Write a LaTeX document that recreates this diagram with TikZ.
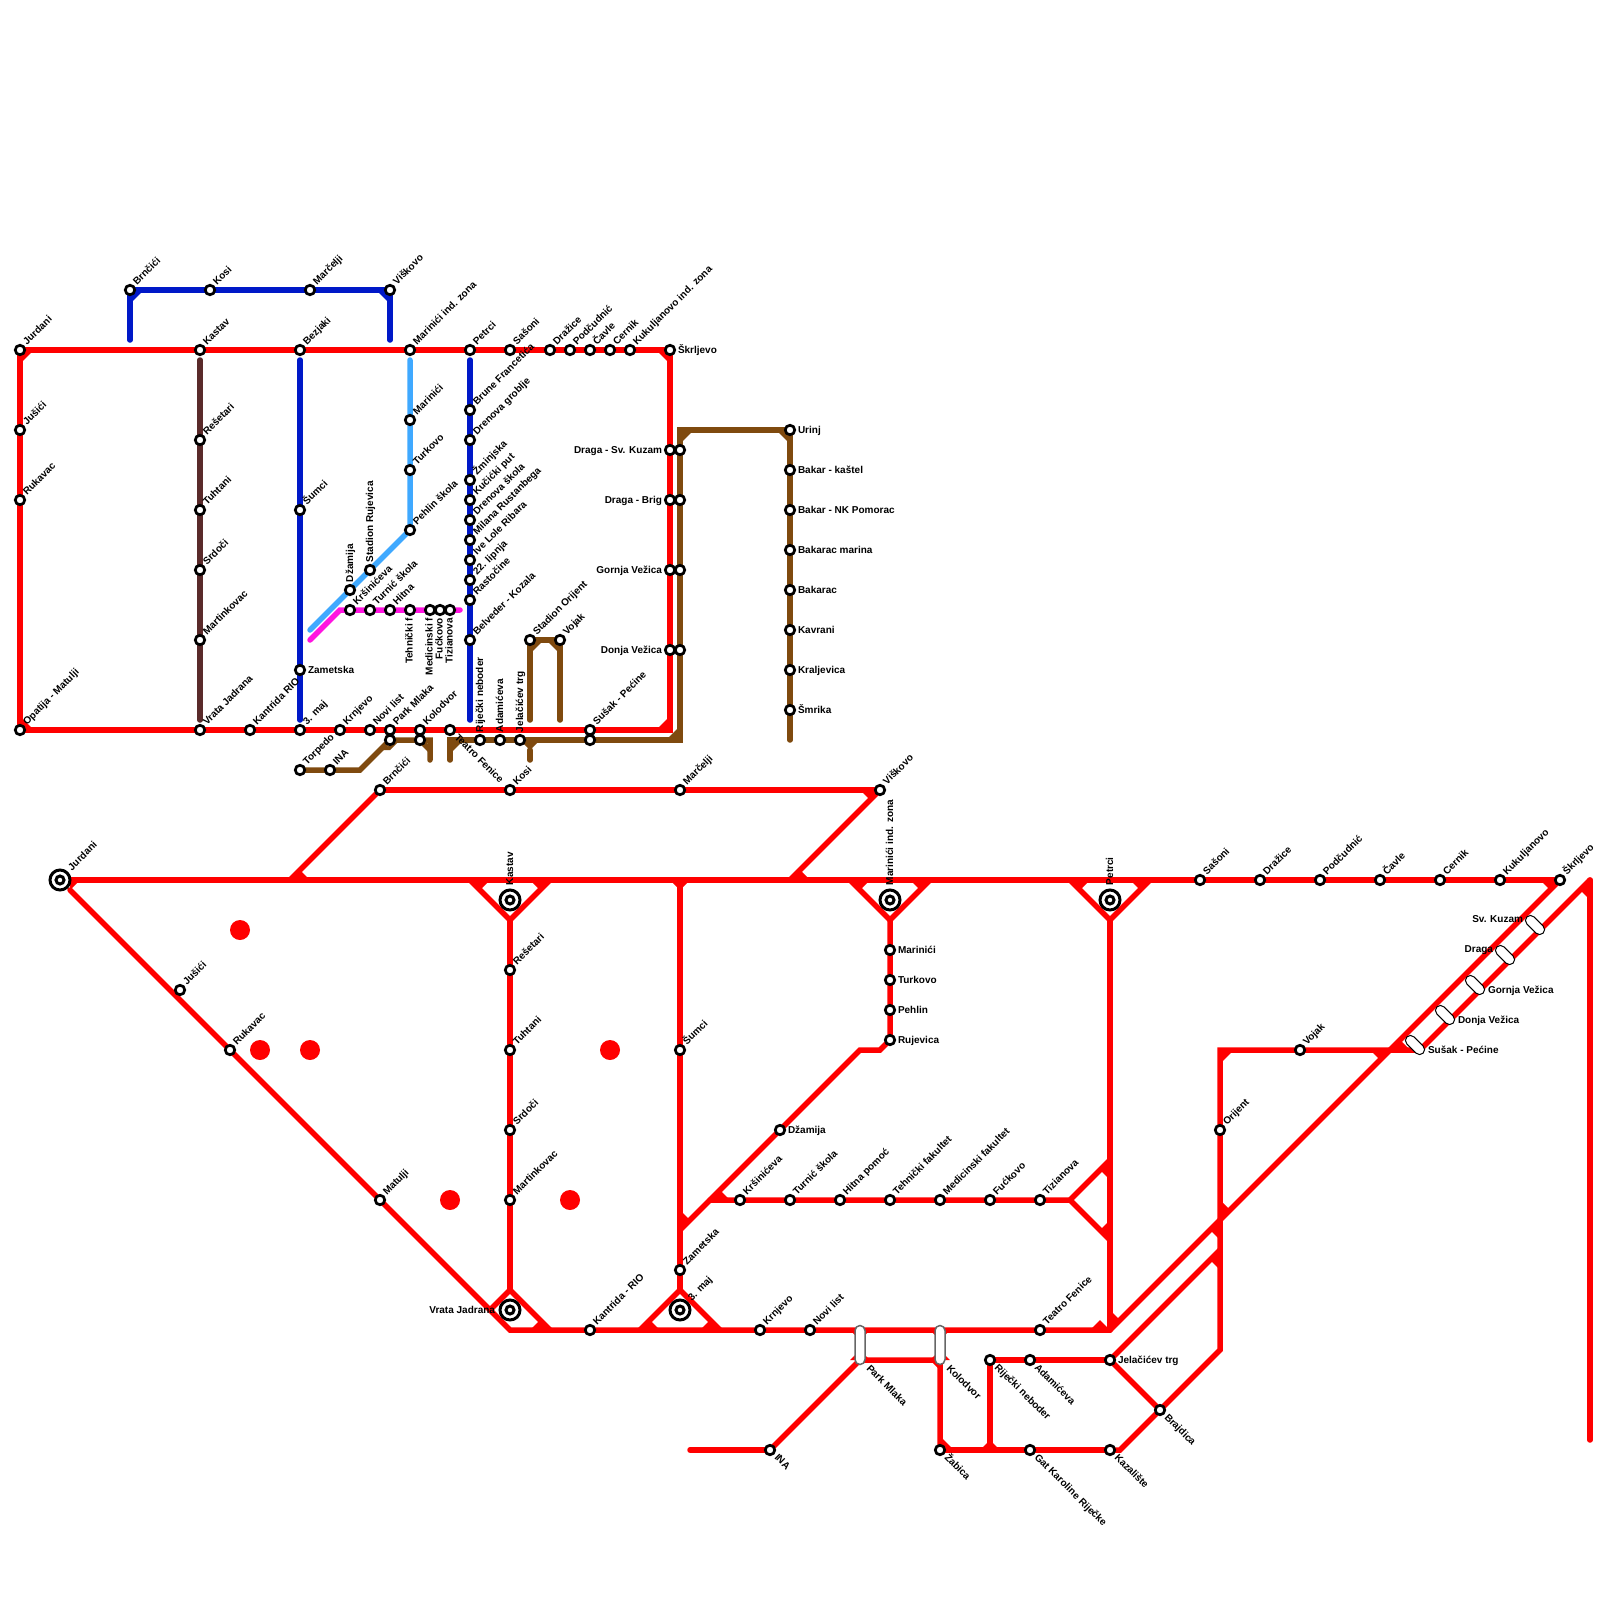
\documentclass[tikz,border=0pt]{standalone}
\usepackage{fontspec}
\setmainfont{Liberation Sans}
\usetikzlibrary{backgrounds,shapes.misc}
\definecolor{lred}{HTML}{FF0000}
\definecolor{lblue}{HTML}{0018C8}
\definecolor{lsky}{HTML}{3FA9FF}
\definecolor{lpink}{HTML}{FF14E0}
\definecolor{lbrown}{HTML}{7F4A0F}
\definecolor{ldark}{HTML}{5A2A2A}
\tikzset{
  stnode/.style={circle,draw=black,fill=white,line width=1.35pt,minimum size=4.75pt,inner sep=0pt,outer sep=0pt},
  bigring/.style={circle,draw=black,fill=white,line width=1.5pt,minimum size=10pt,inner sep=0pt,outer sep=0pt},
  smallring/.style={circle,draw=black,fill=white,line width=1.5pt,minimum size=4pt,inner sep=0pt,outer sep=0pt},
  lbl/.style={inner sep=0pt,outer sep=0pt,text=black,font=\fontsize{5pt}{6pt}\selectfont\bfseries},
  lNE/.style={lbl,shift={(7,-4.5)},rotate=45,anchor=base west},
  lE/.style={lbl,shift={(8,3.5)},anchor=base west},
  lW/.style={lbl,shift={(-8,3.5)},anchor=base east},
  lSE/.style={lbl,shift={(4,8)},rotate=-45,anchor=base west},
  lN/.style={lbl,shift={(3,-8)},rotate=90,anchor=base west},
  lS/.style={lbl,shift={(2.5,8)},rotate=90,anchor=base east},
  iNE/.style={lbl,shift={(12,-9)},rotate=45,anchor=base west},
  iN/.style={lbl,shift={(3,-15)},rotate=90,anchor=base west},
  iW/.style={lbl,shift={(-15,3.5)},anchor=base east},
  ln/.style={line width=2.75pt,line cap=round,line join=miter},
  redln/.style={ln,draw=lred},
  blueln/.style={ln,draw=lblue},
  skyln/.style={ln,draw=lsky},
  pinkln/.style={ln,draw=lpink},
  brownln/.style={ln,draw=lbrown},
  darkln/.style={ln,draw=ldark},
  pillv/.style={rounded rectangle,draw=black!60,fill=white,line width=0.75pt,minimum width=19.5pt,minimum height=5pt,inner sep=0pt,outer sep=0pt,rotate=90},
  pilld/.style={rounded rectangle,draw=black,fill=white,line width=0.5pt,minimum width=11.5pt,minimum height=5pt,inner sep=0pt,outer sep=0pt,rotate=-45},
  reddot/.style={circle,fill=lred,minimum size=10pt,inner sep=0pt,outer sep=0pt}
}
\newcommand{\stn}[5]{\node[stnode] (#1) at (#2,#3) {}; \node[#4] (#1-t) at (#1.center) {#5};}
\newcommand{\stp}[3]{\node[stnode] (#1) at (#2,#3) {};}
\newcommand{\stb}[5]{\node[bigring] (#1) at (#2,#3) {}; \node[smallring] (#1-i) at (#2,#3) {}; \node[#4] (#1-t) at (#1.center) {#5};}
\newcommand{\wdg}[7][lred]{\fill[#1] (#2,#3) -- (#4,#5) -- (#6,#7) -- cycle;}
\newcommand{\chm}[5]{\draw[ln,draw=#1,line cap=butt] (#2,#3) -- (#4,#5);}
\begin{document}
\begin{tikzpicture}[x=0.5pt,y=-0.5pt]
\useasboundingbox (0,0) rectangle (1600,1600);
% upper map stations
\stn{aJur}{20}{350}{lNE}{Jurdani}
\stn{aJus}{20}{430}{lNE}{Jušići}
\stn{aRuk}{20}{500}{lNE}{Rukavac}
\stn{aOpa}{20}{730}{lNE}{Opatija - Matulji}
\stn{aBrn}{130}{290}{lNE}{Brnčići}
\stn{aKos}{210}{290}{lNE}{Kosi}
\stn{aMar}{310}{290}{lNE}{Marčelji}
\stn{aVis}{390}{290}{lNE}{Viškovo}
\stn{aKas}{200}{350}{lNE}{Kastav}
\stn{aRes}{200}{440}{lNE}{Rešetari}
\stn{aTuh}{200}{510}{lNE}{Tuhtani}
\stn{aSrd}{200}{570}{lNE}{Srdoči}
\stn{aMrt}{200}{640}{lNE}{Martinkovac}
\stn{aVrj}{200}{730}{lNE}{Vrata Jadrana}
\stn{aKan}{250}{730}{lNE}{Kantrida RIO}
\stn{aTrm}{300}{730}{lNE}{3. maj}
\stn{aBez}{300}{350}{lNE}{Bezjaki}
\stn{aSum}{300}{510}{lNE}{Šumci}
\stn{aZam}{300}{670}{lE}{Zametska}
\stn{aKrn}{340}{730}{lNE}{Krnjevo}
\stn{aNov}{370}{730}{lNE}{Novi list}
\stn{aPar}{390}{730}{lNE}{Park Mlaka}
\stn{aKol}{420}{730}{lNE}{Kolodvor}
\stn{aTea}{450}{730}{lSE}{Teatro Fenice}
\stn{aSus}{590}{730}{lNE}{Sušak - Pećine}
\stn{aMin}{410}{350}{lNE}{Marinići ind. zona}
\stn{aPet}{470}{350}{lNE}{Petrci}
\stn{aSas}{510}{350}{lNE}{Sašoni}
\stn{aDra}{550}{350}{lNE}{Dražice}
\stn{aPod}{570}{350}{lNE}{Podčudnić}
\stn{aCav}{590}{350}{lNE}{Čavle}
\stn{aCer}{610}{350}{lNE}{Cernik}
\stn{aKuk}{630}{350}{lNE}{Kukuljanovo ind. zona}
\stn{aSkr}{670}{350}{lE}{Škrljevo}
\stp{aPaz}{390}{740}
\stp{aKoz}{420}{740}
\stn{aTor}{300}{770}{lNE}{Torpedo}
\stn{aIna}{330}{770}{lNE}{INA}
\stn{aRij}{480}{740}{lN}{Riječki neboder}
\stn{aAda}{500}{740}{lN}{Adamićeva}
\stn{aJel}{520}{740}{lN}{Jelačićev trg}
\stp{aSuz}{590}{740}
\stn{aDsk}{670}{450}{lW}{Draga - Sv. Kuzam}
\stp{aDsz}{680}{450}
\stn{aDbr}{670}{500}{lW}{Draga - Brig}
\stp{aDbz}{680}{500}
\stn{aGve}{670}{570}{lW}{Gornja Vežica}
\stp{aGvz}{680}{570}
\stn{aDve}{670}{650}{lW}{Donja Vežica}
\stp{aDvz}{680}{650}
\stn{aUri}{790}{430}{lE}{Urinj}
\stn{aBka}{790}{470}{lE}{Bakar - kaštel}
\stn{aBnk}{790}{510}{lE}{Bakar - NK Pomorac}
\stn{aBma}{790}{550}{lE}{Bakarac marina}
\stn{aBrc}{790}{590}{lE}{Bakarac}
\stn{aKav}{790}{630}{lE}{Kavrani}
\stn{aKra}{790}{670}{lE}{Kraljevica}
\stn{aSmr}{790}{710}{lE}{Šmrika}
\stn{aBfr}{470}{410}{lNE}{Brune Francetića}
\stn{aDgr}{470}{440}{lNE}{Drenova groblje}
\stn{aZmi}{470}{480}{lNE}{Žminjska}
\stn{aKuc}{470}{500}{lNE}{Kučićki put}
\stn{aDsc}{470}{520}{lNE}{Drenova škola}
\stn{aMil}{470}{540}{lNE}{Milana Rustanbega}
\stn{aIve}{470}{560}{lNE}{Ive Lole Ribara}
\stn{aLip}{470}{580}{lNE}{22. lipnja}
\stn{aRas}{470}{600}{lNE}{Rastočine}
\stn{aBel}{470}{640}{lNE}{Belveder - Kozala}
\stn{aMri}{410}{420}{lNE}{Marinići}
\stn{aTur}{410}{470}{lNE}{Turkovo}
\stn{aPeh}{410}{530}{lNE}{Pehlin škola}
\stn{aSta}{370}{570}{lN}{Stadion Rujevica}
\stn{aDza}{350}{590}{lN}{Džamija}
\stn{aKrs}{350}{610}{lNE}{Kršinićeva}
\stn{aTrn}{370}{610}{lNE}{Turnić škola}
\stn{aHit}{390}{610}{lNE}{Hitna}
\stn{aTeh}{410}{610}{lS}{Tehnički f}
\stn{aMed}{430}{610}{lS}{Medicinski f}
\stn{aFuc}{440}{610}{lS}{Fućkovo}
\stn{aTiz}{450}{610}{lS}{Tizianova}
\stn{aOrj}{530}{640}{lNE}{Stadion Orijent}
\stn{aVoj}{560}{640}{lNE}{Vojak}
% lower map stations
\stb{bJur}{60}{880}{iNE}{Jurdani}
\stn{bJus}{180}{990}{lNE}{Jušići}
\stn{bRuk}{230}{1050}{lNE}{Rukavac}
\stn{bMat}{380}{1200}{lNE}{Matulji}
\stb{bKas}{510}{900}{iN}{Kastav}
\stn{bRes}{510}{970}{lNE}{Rešetari}
\stn{bTuh}{510}{1050}{lNE}{Tuhtani}
\stn{bSrd}{510}{1130}{lNE}{Srdoči}
\stn{bMrt}{510}{1200}{lNE}{Martinkovac}
\stb{bVrj}{510}{1310}{iW}{Vrata Jadrana}
\stn{bKan}{590}{1330}{lNE}{Kantrida - RIO}
\stb{bTrm}{680}{1310}{iNE}{3. maj}
\stn{bZam}{680}{1270}{lNE}{Zametska}
\stn{bSum}{680}{1050}{lNE}{Šumci}
\stn{bBrn}{380}{790}{lNE}{Brnčići}
\stn{bKos}{510}{790}{lNE}{Kosi}
\stn{bMar}{680}{790}{lNE}{Marčelji}
\stn{bVis}{880}{790}{lNE}{Viškovo}
\stn{bKrn}{760}{1330}{lNE}{Krnjevo}
\stn{bNov}{810}{1330}{lNE}{Novi list}
\stn{bTea}{1040}{1330}{lNE}{Teatro Fenice}
\stb{bMin}{890}{900}{iN}{Marinići ind. zona}
\stb{bPet}{1110}{900}{iN}{Petrci}
\stn{bMri}{890}{950}{lE}{Marinići}
\stn{bTur}{890}{980}{lE}{Turkovo}
\stn{bPeh}{890}{1010}{lE}{Pehlin}
\stn{bRuj}{890}{1040}{lE}{Rujevica}
\stn{bDza}{780}{1130}{lE}{Džamija}
\stn{bKrs}{740}{1200}{lNE}{Kršinićeva}
\stn{bTrn}{790}{1200}{lNE}{Turnić škola}
\stn{bHit}{840}{1200}{lNE}{Hitna pomoć}
\stn{bTeh}{890}{1200}{lNE}{Tehnički fakultet}
\stn{bMed}{940}{1200}{lNE}{Medicinski fakultet}
\stn{bFuc}{990}{1200}{lNE}{Fućkovo}
\stn{bTiz}{1040}{1200}{lNE}{Tizianova}
\stn{bRij}{990}{1360}{lSE}{Riječki neboder}
\stn{bAda}{1030}{1360}{lSE}{Adamićeva}
\stn{bJel}{1110}{1360}{lE}{Jelačićev trg}
\stn{bBra}{1160}{1410}{lSE}{Brajdica}
\stn{bKaz}{1110}{1450}{lSE}{Kazalište}
\stn{bGat}{1030}{1450}{lSE}{Gat Karoline Riječke}
\stn{bZab}{940}{1450}{lSE}{Žabica}
\stn{bIna}{770}{1450}{lSE}{INA}
\stn{bOri}{1220}{1130}{lNE}{Orijent}
\stn{bVoj}{1300}{1050}{lNE}{Vojak}
\stn{bSas}{1200}{880}{lNE}{Sašoni}
\stn{bDra}{1260}{880}{lNE}{Dražice}
\stn{bPod}{1320}{880}{lNE}{Podčudnić}
\stn{bCav}{1380}{880}{lNE}{Čavle}
\stn{bCer}{1440}{880}{lNE}{Cernik}
\stn{bKuk}{1500}{880}{lNE}{Kukuljanovo}
\stn{bSkr}{1560}{880}{lNE}{Škrljevo}
% pills
\node[pillv] (pPar) at (860,1345) {};
\node[pillv] (pKol) at (940,1345) {};
\node[lbl,shift={(6,24)},rotate=-45,anchor=base west] (pPar-t) at (pPar.center) {Park Mlaka};
\node[lbl,shift={(6,24)},rotate=-45,anchor=base west] (pKol-t) at (pKol.center) {Kolodvor};
\node[pilld] (pSus) at (1415,1045) {};
\node[pilld] (pDve) at (1445,1015) {};
\node[pilld] (pGve) at (1475,985) {};
\node[pilld] (pDra) at (1505,955) {};
\node[pilld] (pKuz) at (1535,925) {};
\node[lbl,anchor=base west] (pSus-t) at (1428,1053) {Sušak - Pećine};
\node[lbl,anchor=base west] (pDve-t) at (1458,1023) {Donja Vežica};
\node[lbl,anchor=base west] (pGve-t) at (1488,993) {Gornja Vežica};
\node[lbl,anchor=base east] (pDra-t) at (1493,952) {Draga};
\node[lbl,anchor=base east] (pKuz-t) at (1523,922) {Sv. Kuzam};
% red dots
\node[reddot] (d1) at (240,930) {};
\node[reddot] (d2) at (260,1050) {};
\node[reddot] (d3) at (310,1050) {};
\node[reddot] (d4) at (610,1050) {};
\node[reddot] (d5) at (450,1200) {};
\node[reddot] (d6) at (570,1200) {};
% bends and free ends
\foreach \n/\a/\b in {
 cA1/670/730,fB1/130/340,fB2/390/340,fD1/200/360,fD2/200/720,fB3/300/360,fB4/300/720,
 fB5/470/360,fB6/470/720,fS1/410/360,fS2/310/630,fP1/310/640,cP1/340/610,fP2/460/610,
 fU1/530/720,fU2/560/720,cT1/360/770,cT2/430/740,fT1/430/760,fT2/450/760,cT3/450/740,
 cT4/680/740,cT5/680/430,fT3/790/740,cT6/530/750,fT4/530/760,
 cL1/70/890,cL2/510/1330,cL3/1110/1330,
 k1/470/880,k2/510/920,k3/550/880,v1/510/1290,v2/490/1310,v3/550/1330,
 m1/680/880,m2/680/1290,m3/640/1330,m4/720/1330,
 n1/290/880,n2/790/880,
 z1/850/880,z2/890/920,z3/930/880,z4/880/1050,z5/860/1050,z6/680/1230,
 y1/710/1200,y2/1070/1200,y3/1110/1160,y4/1110/1240,
 p1/1070/880,p2/1110/920,p3/1150/880,
 q1/1220/1250,q2/990/1450,q3/1120/1450,q4/1220/1350,q5/1220/1050,q6/1420/1050,q7/1590/880,q8/1590/1440,
 r1/860/1360,r2/940/1360,r3/690/1450}
 {\coordinate (\n) at (\a,\b);}
\begin{pgfonlayer}{background}
\fill[white] (0,0) rectangle (1600,1600);
% upper
\draw[brownln] (aTor) -- (aIna) -- (cT1) -- (aPaz) -- (aKoz) -- (cT2) -- (fT1);
\draw[brownln] (fT2) -- (cT3) -- (aRij) -- (aAda) -- (aJel) -- (aSuz) -- (cT4) -- (aDvz) -- (aGvz) -- (aDbz) -- (aDsz) -- (cT5) -- (aUri) -- (fT3);
\draw[brownln] (cT6) -- (fT4);
\draw[brownln] (fU1) -- (aOrj) -- (aVoj) -- (fU2);
\wdg[lbrown]{380}{750}{390}{750}{400}{740}
\wdg[lbrown]{520}{740}{540}{740}{530}{750}
\chm{lbrown}{680}{440}{690}{430}
\chm{lbrown}{780}{430}{790}{440}
\chm{lbrown}{530}{650}{540}{640}
\chm{lbrown}{550}{640}{560}{650}
\chm{lbrown}{670}{740}{680}{730}
\chm{lbrown}{420}{740}{430}{750}
\chm{lbrown}{450}{750}{460}{740}
\draw[redln] (aJur) -- (aSkr);
\draw[redln] (aJur) -- (aOpa);
\draw[redln] (aSkr) -- (cA1) -- (aOpa);
\chm{lred}{660}{350}{670}{360}
\chm{lred}{660}{730}{670}{720}
\chm{lred}{30}{350}{20}{360}
\chm{lred}{20}{720}{30}{730}
\draw[blueln] (fB1) -- (aBrn);
\draw[blueln] (aBrn) -- (aVis);
\draw[blueln] (aVis) -- (fB2);
\chm{lblue}{130}{300}{140}{290}
\chm{lblue}{380}{290}{390}{300}
\draw[darkln] (fD1) -- (fD2);
\draw[blueln] (fB3) -- (fB4);
\draw[blueln] (fB5) -- (fB6);
\draw[skyln] (fS1) -- (aPeh.center) -- (fS2);
\draw[pinkln] (fP1) -- (cP1) -- (fP2);
% lower
\draw[redln] (bJur) -- (bSkr);
\draw[redln] (cL1) -- (cL2) -- (cL3) -- (bSkr);
\draw[redln] (k1) -- (k2) -- (k3);
\draw[redln] (k2) -- (v1);
\draw[redln] (v2) -- (v1) -- (v3);
\draw[redln] (m1) -- (m2);
\draw[redln] (m3) -- (m2) -- (m4);
\draw[redln] (n1) -- (bBrn);
\draw[redln] (bBrn) -- (bVis);
\draw[redln] (bVis) -- (n2);
\draw[redln] (z1) -- (z2) -- (z3);
\draw[redln] (z2) -- (bRuj.center) -- (z4) -- (z5) -- (z6);
\draw[redln] (y1) -- (y2) -- (y3);
\draw[redln] (y2) -- (y4);
\draw[redln] (p1) -- (p2) -- (p3);
\draw[redln] (p2) -- (cL3);
\draw[redln] (bJel) -- (q1);
\draw[redln] (bJel) -- (bBra);
\draw[redln] (bJel) -- (bRij);
\draw[redln] (bRij) -- (q2);
\draw[redln] (bZab) -- (bKaz);
\draw[redln] (bKaz) -- (q3) -- (q4) -- (q5) -- (q6) -- (q7);
\draw[redln] (q7) -- (q8);
\draw[redln] (r3) -- (bIna);
\draw[redln] (bIna) -- (r1) -- (r2) -- (bZab);
\chm{lred}{1220}{1060}{1230}{1050}
\chm{lred}{940}{1440}{950}{1450}
% junction wedges
\wdg{470}{880}{490}{880}{480}{890}
\wdg{530}{880}{550}{880}{540}{890}
\wdg{670}{880}{690}{880}{680}{890}
\wdg{290}{880}{310}{880}{300}{870}
\wdg{790}{880}{810}{880}{800}{870}
\wdg{860}{790}{880}{790}{870}{800}
\wdg{850}{880}{870}{880}{860}{890}
\wdg{910}{880}{930}{880}{920}{890}
\wdg{1070}{880}{1090}{880}{1080}{890}
\wdg{1130}{880}{1150}{880}{1140}{890}
\wdg{1540}{880}{1560}{880}{1550}{890}
\wdg{1590}{880}{1590}{900}{1580}{890}
\wdg{70}{880}{80}{880}{70}{890}
\wdg{170}{990}{180}{1000}{180}{990}
\wdg{530}{1330}{550}{1330}{540}{1320}
\wdg{640}{1330}{660}{1330}{650}{1320}
\wdg{700}{1330}{720}{1330}{710}{1320}
\wdg{850}{1330}{870}{1330}{860}{1340}
\wdg{930}{1330}{950}{1330}{940}{1340}
\wdg{850}{1360}{870}{1360}{860}{1350}
\wdg{930}{1360}{950}{1360}{940}{1350}
\wdg{930}{1360}{940}{1370}{940}{1360}
\wdg{1090}{1330}{1110}{1330}{1100}{1320}
\wdg{1110}{1310}{1110}{1330}{1120}{1320}
\wdg{1110}{1160}{1110}{1180}{1100}{1170}
\wdg{1110}{1220}{1110}{1240}{1100}{1230}
\wdg{1220}{1220}{1220}{1240}{1210}{1230}
\wdg{1220}{1200}{1220}{1220}{1230}{1210}
\wdg{1220}{1250}{1220}{1270}{1210}{1260}
\wdg{1370}{1050}{1390}{1050}{1380}{1060}
\wdg{1390}{1050}{1410}{1050}{1400}{1040}
\wdg{710}{1200}{730}{1200}{720}{1190}
\wdg{680}{1210}{680}{1230}{690}{1220}
\wdg{980}{1450}{1000}{1450}{990}{1440}
\end{pgfonlayer}
\end{tikzpicture}
\end{document}
